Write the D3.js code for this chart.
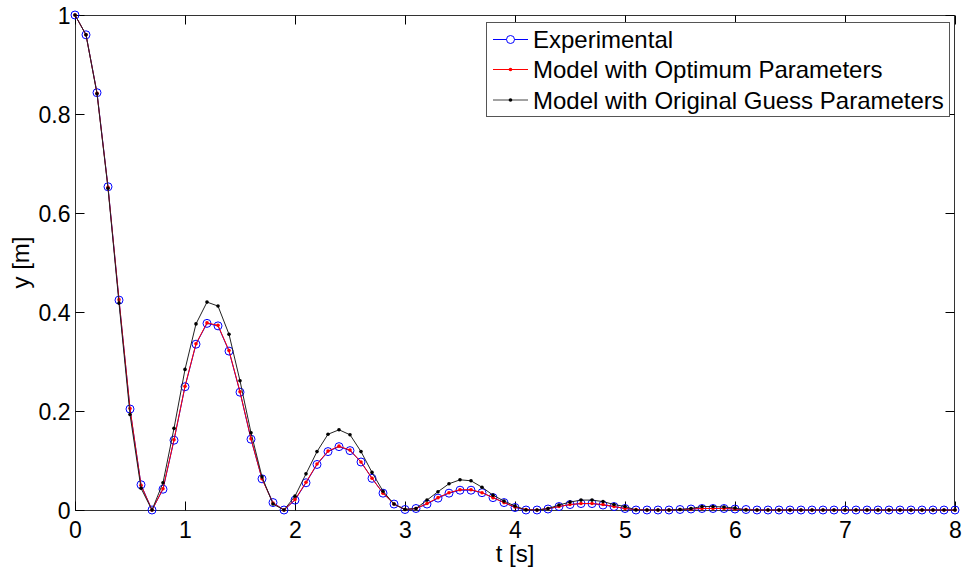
<!DOCTYPE html>
<html>
<head>
<meta charset="utf-8">
<script src="https://cdn.jsdelivr.net/npm/d3@7/dist/d3.min.js"></script>
<style>
  html, body { margin: 0; padding: 0; background: #fff; }
  svg { display: block; }
  text { font-family: "Liberation Sans", Arial, sans-serif; fill: #000; }
</style>
</head>
<body>
<svg id="chart" width="964" height="570"></svg>
<script>
// ---- data ----
const time = [0,0.1,0.2,0.3,0.4,0.5,0.6,0.7,0.8,0.9,1,1.1,1.2,1.3,1.4,1.5,1.6,1.7,1.8,1.9,
  2,2.1,2.2,2.3,2.4,2.5,2.6,2.7,2.8,2.9,3,3.1,3.2,3.3,3.4,3.5,3.6,3.7,3.8,3.9,
  4,4.1,4.2,4.3,4.4,4.5,4.6,4.7,4.8,4.9,5,5.1,5.2,5.3,5.4,5.5,5.6,5.7,5.8,5.9,
  6,6.1,6.2,6.3,6.4,6.5,6.6,6.7,6.8,6.9,7,7.1,7.2,7.3,7.4,7.5,7.6,7.7,7.8,7.9,8];

const experimental = [1.000,0.960,0.843,0.653,0.424,0.204,0.051,0.000,0.042,0.141,
  0.249,0.335,0.377,0.372,0.321,0.238,0.143,0.063,0.015,0.000,
  0.020,0.055,0.092,0.118,0.128,0.120,0.097,0.064,0.034,0.012,
  0.001,0.003,0.012,0.024,0.034,0.040,0.040,0.035,0.025,0.015,
  0.005,0.000,0.000,0.002,0.007,0.011,0.013,0.013,0.010,0.007,
  0.003,0.000,0.000,0.000,0.000,0.001,0.002,0.003,0.003,0.003,
  0.002,0.001,0,0,0,0,0,0,0,0,0,0,0,0,0,0,0,0,0,0,0];

const optimumModel = [1.000,0.960,0.842,0.652,0.425,0.205,0.050,0.000,0.043,0.142,
  0.250,0.336,0.378,0.373,0.322,0.239,0.144,0.063,0.014,0.000,
  0.021,0.056,0.093,0.119,0.129,0.121,0.097,0.064,0.034,0.012,
  0.001,0.003,0.013,0.025,0.035,0.041,0.041,0.035,0.025,0.015,
  0.006,0.001,0.000,0.003,0.007,0.011,0.013,0.013,0.011,0.007,
  0.003,0.001,0.000,0.000,0.000,0.001,0.002,0.003,0.003,0.003,
  0.002,0.001,0,0,0,0,0,0,0,0,0,0,0,0,0,0,0,0,0,0,0];

const guessModel = [1.000,0.960,0.841,0.650,0.418,0.193,0.044,0.000,0.055,0.165,
  0.284,0.376,0.420,0.412,0.355,0.261,0.156,0.067,0.012,0.000,
  0.028,0.073,0.118,0.153,0.162,0.152,0.118,0.076,0.038,0.012,
  0.001,0.003,0.020,0.037,0.053,0.061,0.059,0.046,0.030,0.018,
  0.008,0.000,0.000,0.003,0.010,0.016,0.020,0.020,0.017,0.011,
  0.007,0.000,0.000,0.000,0.000,0.001,0.003,0.007,0.007,0.006,
  0.004,0.000,0,0,0,0,0,0,0,0,0,0,0,0,0,0,0,0,0,0,0];

const xTicks = [0,1,2,3,4,5,6,7,8];
const yTicks = [0,0.2,0.4,0.6,0.8,1];
const yTickLabels = ["0","0.2","0.4","0.6","0.8","1"];
const seriesNames = ["Experimental","Model with Optimum Parameters","Model with Original Guess Parameters"];

// ---- layout ----
const svg = d3.select("#chart");
const L = 75, R = 955, T = 15, B = 510;
const x = d3.scaleLinear().domain([0, 8]).range([L, R]);
const y = d3.scaleLinear().domain([0, 1]).range([B, T]);
const FS = 23;
const LFS = 24;
const tickLen = 9;
const axisColor = "#333";

// box
svg.append("rect").attr("x", L + 0.5).attr("y", T + 0.5)
  .attr("width", R - L - 1).attr("height", B - T)
  .attr("fill", "none").attr("stroke", axisColor).attr("stroke-width", 1);

// axes with inward ticks
const xAxisB = d3.axisBottom(x).tickValues(xTicks).tickSizeInner(-tickLen).tickSizeOuter(0).tickFormat(d3.format("d")).tickPadding(0);
const gxb = svg.append("g").attr("transform", `translate(0,${B + 0.5})`).call(xAxisB);
gxb.select(".domain").remove();
gxb.selectAll(".tick line").attr("stroke", "#000");
gxb.selectAll(".tick text").attr("font-size", FS).attr("dy", null).attr("y", 27)
  .attr("font-family", "Liberation Sans, Arial, sans-serif").attr("fill", "#000");

const xAxisT = d3.axisTop(x).tickValues(xTicks).tickSizeInner(-tickLen).tickSizeOuter(0).tickFormat("");
const gxt = svg.append("g").attr("transform", `translate(0,${T + 0.5})`).call(xAxisT);
gxt.select(".domain").remove();
gxt.selectAll(".tick line").attr("stroke", "#000");

const yAxisL = d3.axisLeft(y).tickValues(yTicks).tickSizeInner(-tickLen).tickSizeOuter(0)
  .tickFormat((d, i) => yTickLabels[i]).tickPadding(5);
const gyl = svg.append("g").attr("transform", `translate(${L + 0.5},0)`).call(yAxisL);
gyl.select(".domain").remove();
gyl.selectAll(".tick line").attr("stroke", "#000");
gyl.selectAll(".tick text").attr("font-size", FS).attr("dy", "0.36em").attr("x", -5)
  .attr("font-family", "Liberation Sans, Arial, sans-serif").attr("fill", "#000");

const yAxisR = d3.axisRight(y).tickValues(yTicks).tickSizeInner(-tickLen).tickSizeOuter(0).tickFormat("");
const gyr = svg.append("g").attr("transform", `translate(${R - 0.5},0)`).call(yAxisR);
gyr.select(".domain").remove();
gyr.selectAll(".tick line").attr("stroke", "#000");

// axis labels
svg.append("text").attr("x", (L + R) / 2).attr("y", 562).attr("text-anchor", "middle")
  .attr("font-size", LFS).text("t [s]");
svg.append("text").attr("transform", `translate(29,${(T + B) / 2}) rotate(-90)`)
  .attr("text-anchor", "middle").attr("font-size", LFS).text("y [m]");

// ---- series ----
const line = vals => d3.line().x((d, i) => x(time[i])).y(d => y(d))(vals);

// experimental
svg.append("path").attr("d", line(experimental)).attr("fill", "none")
  .attr("stroke", "#0000ff").attr("stroke-width", 1);
svg.append("g").selectAll("circle").data(experimental).join("circle")
  .attr("cx", (d, i) => x(time[i])).attr("cy", d => y(d)).attr("r", 4)
  .attr("fill", "none").attr("stroke", "#0000ff").attr("stroke-width", 1);

// optimum model
svg.append("path").attr("d", line(optimumModel)).attr("fill", "none")
  .attr("stroke", "#ff0000").attr("stroke-width", 1);
svg.append("g").selectAll("circle").data(optimumModel).join("circle")
  .attr("cx", (d, i) => x(time[i])).attr("cy", d => y(d)).attr("r", 1.8)
  .attr("fill", "#ff0000");

// original guess model
svg.append("path").attr("d", line(guessModel)).attr("fill", "none")
  .attr("stroke", "#222").attr("stroke-width", 1);
svg.append("g").selectAll("circle").data(guessModel).join("circle")
  .attr("cx", (d, i) => x(time[i])).attr("cy", d => y(d)).attr("r", 1.8)
  .attr("fill", "#000");

// ---- legend ----
const lg = svg.append("g");
lg.append("rect").attr("x", 486.5).attr("y", 22.5).attr("width", 463).attr("height", 94)
  .attr("fill", "#fff").attr("stroke", "#555").attr("stroke-width", 1);
const legendRows = [39.5, 69.5, 100];
const legendColors = ["#0000ff", "#ff0000", "#444"];
seriesNames.forEach((name, i) => {
  const yy = legendRows[i];
  lg.append("line").attr("x1", 493).attr("x2", 528).attr("y1", yy).attr("y2", yy)
    .attr("stroke", legendColors[i]).attr("stroke-width", 1);
  if (i === 0) {
    lg.append("circle").attr("cx", 510.5).attr("cy", yy).attr("r", 4)
      .attr("fill", "#fff").attr("stroke", "#0000ff").attr("stroke-width", 1);
  } else {
    lg.append("circle").attr("cx", 510.5).attr("cy", yy).attr("r", 1.8)
      .attr("fill", i === 1 ? "#ff0000" : "#000");
  }
  lg.append("text").attr("x", 533).attr("y", yy).attr("dy", "0.36em")
    .attr("font-size", LFS).text(name);
});
</script>
</body>
</html>
